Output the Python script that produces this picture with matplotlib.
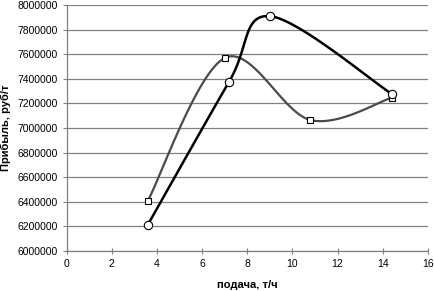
import numpy as np
import matplotlib.pyplot as plt
from matplotlib.ticker import FuncFormatter

plt.rcParams['font.family'] = ['Liberation Sans', 'DejaVu Sans']

# data
x_sq = [3.6, 7.0, 10.8, 14.4]
y_sq = [6410000, 7570000, 7065000, 7246000]
x_ci = [3.6, 7.2, 9.0, 14.4]
y_ci = [6215000, 7378000, 7910000, 7278000]

xticks = list(range(0, 17, 2))
yticks = list(range(6000000, 8000001, 200000))


def smooth(xs, ys, n=40):
    # Catmull-Rom style smoothing like Excel "smoothed line"
    p = np.column_stack([xs, ys]).astype(float)
    p = np.vstack([p[0], p, p[-1]])
    out = []
    t = np.linspace(0, 1, n)[:, None]
    for i in range(1, len(p) - 2):
        p0, p1, p2, p3 = p[i - 1], p[i], p[i + 1], p[i + 2]
        seg = 0.5 * ((2 * p1) + (-p0 + p2) * t + (2 * p0 - 5 * p1 + 4 * p2 - p3) * t ** 2
                     + (-p0 + 3 * p1 - 3 * p2 + p3) * t ** 3)
        out.append(seg)
    out = np.vstack(out)
    return out[:, 0], out[:, 1]


fig = plt.figure(figsize=(4.34, 2.91), dpi=100)
ax = fig.add_axes([0.1537, 0.1375, 0.832, 0.845])

sx, sy = smooth(x_sq, y_sq)
ax.plot(sx, sy, color='#4a4a4a', lw=1.6, zorder=3)
ax.plot(x_sq, y_sq, ls='none', marker='s', ms=5, mfc='white', mec='black', mew=0.8, zorder=4)

cx, cy = smooth(x_ci, y_ci)
ax.plot(cx, cy, color='black', lw=1.8, zorder=3)
ax.plot(x_ci, y_ci, ls='none', marker='o', ms=6, mfc='white', mec='black', mew=0.8, zorder=5)

ax.set_xlim(0, 16)
ax.set_ylim(6000000, 8000000)
ax.set_xticks(xticks)
ax.set_yticks(yticks)
ax.yaxis.set_major_formatter(FuncFormatter(lambda v, p: '%d' % v))
ax.tick_params(labelsize=7.5, length=3, color='#808080', width=0.8)
ax.tick_params(axis='x', direction='inout', length=5)
ax.grid(axis='y', color='#808080', lw=0.9)
for s in ['top', 'right']:
    ax.spines[s].set_visible(False)
for s in ['left', 'bottom']:
    ax.spines[s].set_color('#808080')
    ax.spines[s].set_linewidth(0.9)

ax.set_xlabel('подача, т/ч', fontsize=8, fontweight='bold', labelpad=8)
ax.set_ylabel('Прибыль, руб/т', fontsize=8, fontweight='bold')
ax.yaxis.set_label_coords(-0.155, 0.5)

fig.savefig('out.png', dpi=100)
